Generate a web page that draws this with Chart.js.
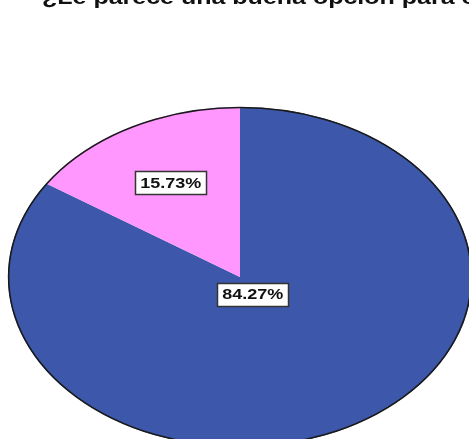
<!DOCTYPE html>
<html lang="es">
<head>
  <meta charset="UTF-8">
  <title>Encuesta | Opción</title>
  <script src="https://cdn.jsdelivr.net/npm/chart.js"></script>
  <style>
    html, body { margin: 0; padding: 0; background: #fff; overflow: hidden; }
    #wrap { width: 469px; height: 439px; overflow: hidden; }
  </style>
</head>
<body>
  <div id="wrap">
    <canvas id="pieChart" width="469" height="460"></canvas>
  </div>

  <script>
    const title = "¿Le parece una buena opción para comprar?";
    const labels = ["Sí", "No"];
    const percents = [84.27, 15.73];
    const colors = ["#3d58ab", "#ff97ff"];

    // the pie is drawn as a circle and stretched sideways into an ellipse
    const stretchX = 1.365;
    // how far out along each slice its label sits (fraction of radius)
    const labelDepth = [0.115, 0.63];
    const textStretch = 1.2;

    const ellipsePlugin = {
      id: "ellipse",
      beforeDatasetsDraw(chart) {
        const arc = chart.getDatasetMeta(0).data[0];
        const ctx = chart.ctx;
        ctx.save();
        ctx.translate(arc.x, arc.y);
        ctx.scale(stretchX, 1);
        ctx.translate(-arc.x, -arc.y);
      },
      afterDatasetsDraw(chart) {
        const arc = chart.getDatasetMeta(0).data[0];
        const ctx = chart.ctx;
        // dark outline round the whole pie
        ctx.beginPath();
        ctx.arc(arc.x, arc.y, arc.outerRadius - 0.5, 0, Math.PI * 2);
        ctx.restore();
        ctx.lineWidth = 1.6;
        ctx.strokeStyle = "#1a1a1a";
        ctx.stroke();
      }
    };

    const boxLabelPlugin = {
      id: "boxLabels",
      afterDraw(chart) {
        const ctx = chart.ctx;
        chart.getDatasetMeta(0).data.forEach((arc, i) => {
          const mid = (arc.startAngle + arc.endAngle) / 2;
          const r = arc.outerRadius * labelDepth[i];
          const x = arc.x + Math.cos(mid) * r * stretchX;
          const y = arc.y + Math.sin(mid) * r;
          const text = percents[i].toFixed(2) + "%";

          ctx.save();
          ctx.font = "bold 15px 'Liberation Sans', Arial, sans-serif";
          const w = ctx.measureText(text).width * textStretch + 10;
          const h = 23;
          ctx.fillStyle = "#ffffff";
          ctx.fillRect(Math.round(x - w / 2) + 0.5, Math.round(y - h / 2) + 0.5, Math.round(w), h);
          ctx.lineWidth = 1.5;
          ctx.strokeStyle = "#333333";
          ctx.strokeRect(Math.round(x - w / 2) + 0.5, Math.round(y - h / 2) + 0.5, Math.round(w), h);
          ctx.translate(x, y);
          ctx.scale(textStretch, 1);
          ctx.fillStyle = "#111111";
          ctx.textAlign = "center";
          ctx.textBaseline = "middle";
          ctx.fillText(text, 0, 1);
          ctx.restore();
        });
      }
    };

    const titlePlugin = {
      id: "topTitle",
      afterDraw(chart) {
        const ctx = chart.ctx;
        ctx.save();
        ctx.translate(42, 4);
        ctx.scale(1.25, 1);
        ctx.font = "bold 20px 'Liberation Sans', Arial, sans-serif";
        ctx.fillStyle = "#111111";
        ctx.textAlign = "left";
        ctx.textBaseline = "alphabetic";
        ctx.fillText(title, 0, 0);
        ctx.restore();
      }
    };

    document.addEventListener("DOMContentLoaded", () => {
      new Chart(document.getElementById("pieChart"), {
        type: "pie",
        data: {
          labels,
          datasets: [{
            data: percents,
            backgroundColor: colors,
            borderWidth: 0
          }]
        },
        options: {
          responsive: false,
          animation: false,
          layout: { padding: { left: 70, right: 59, top: 107, bottom: 13 } },
          plugins: {
            legend: { display: false },
            tooltip: { enabled: false },
            title: { display: false }
          }
        },
        plugins: [ellipsePlugin, boxLabelPlugin, titlePlugin]
      });
    });
  </script>
</body>
</html>
